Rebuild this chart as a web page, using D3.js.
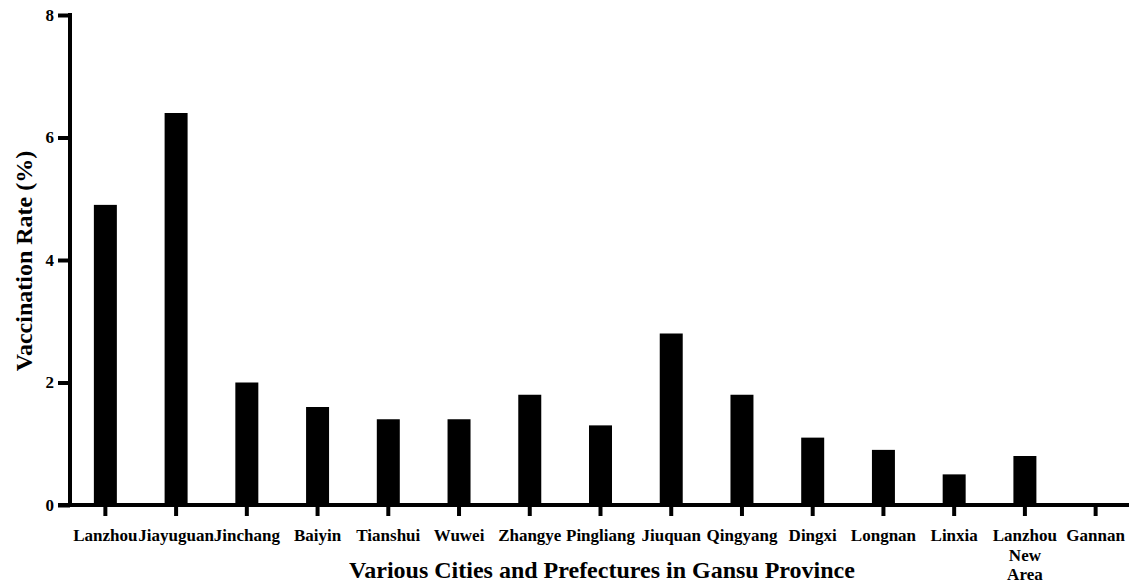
<!DOCTYPE html>
<html><head><meta charset="utf-8">
<script src="https://cdn.jsdelivr.net/npm/d3@7"></script>
<style>body{margin:0;background:#fff}svg{display:block}</style>
</head><body>
<svg id="chart" width="1129" height="583"></svg>
<script>
const categories = ["Lanzhou","Jiayuguan","Jinchang","Baiyin","Tianshui","Wuwei","Zhangye","Pingliang","Jiuquan","Qingyang","Dingxi","Longnan","Linxia","Lanzhou New Area","Gannan"];
const values = [4.9,6.4,2.0,1.6,1.4,1.4,1.8,1.3,2.8,1.8,1.1,0.9,0.5,0.8,0];
const yTicks = [0,2,4,6,8];
const yTitle = "Vaccination Rate (%)";
const xTitle = "Various Cities and Prefectures in Gansu Province";

const svg = d3.select("#chart");
const font = "'Liberation Serif','Times New Roman',serif";
const x0 = 70, x1 = 1131, yTop = 15, yBase = 505;
const x = d3.scaleBand().domain(categories).range([x0, x1]).padding(0);
const y = d3.scaleLinear().domain([0, 8]).range([yBase, yTop]);
const bw = x.bandwidth() * 0.325;

svg.selectAll("rect.bar").data(values).enter().append("rect")
  .attr("class","bar")
  .attr("x",(d,i)=>x(categories[i]) + x.bandwidth()/2 - bw/2)
  .attr("y",d=>y(d))
  .attr("width",bw)
  .attr("height",d=>y(0)-y(d))
  .attr("fill","#000");

// Y axis
const yAxis = svg.append("g").attr("transform",`translate(${x0},0)`)
  .call(d3.axisLeft(y).tickValues(yTicks).tickSize(12).tickPadding(4).tickFormat(d3.format("d")));
yAxis.select(".domain").attr("stroke","#000").attr("stroke-width",4).attr("d",`M0,${yTop-2}V${yBase+2}`);
yAxis.selectAll(".tick line").attr("stroke","#000").attr("stroke-width",4);
yAxis.selectAll(".tick text").attr("font-family",font).attr("font-weight","bold").attr("font-size",17).attr("fill","#000");

// X axis
const xAxis = svg.append("g").attr("transform",`translate(0,${yBase})`)
  .call(d3.axisBottom(x).tickSize(11).tickPadding(12).tickFormat(""));
xAxis.select(".domain").attr("stroke","#000").attr("stroke-width",4).attr("d",`M${x0-12},0H${x1}`);
xAxis.selectAll(".tick line").attr("stroke","#000").attr("stroke-width",4);
xAxis.selectAll(".tick").each(function(d){
  const words = d === "Lanzhou New Area" ? ["Lanzhou","New","Area"] : [d];
  const t = d3.select(this).append("text")
    .attr("font-family",font).attr("font-weight","bold").attr("font-size",17)
    .attr("fill","#000").attr("text-anchor","middle").attr("y",36);
  words.forEach((w,i)=>t.append("tspan").attr("x",0).attr("dy",i?19.5:0).text(w));
});

// Titles
svg.append("text").attr("x",602).attr("y",578)
  .attr("text-anchor","middle").attr("font-family",font).attr("font-weight","bold")
  .attr("font-size",24).attr("fill","#000").text(xTitle);
svg.append("text").attr("transform","translate(32,261) rotate(-90)")
  .attr("text-anchor","middle").attr("font-family",font).attr("font-weight","bold")
  .attr("font-size",24).attr("fill","#000").text(yTitle);
</script>
</body></html>
